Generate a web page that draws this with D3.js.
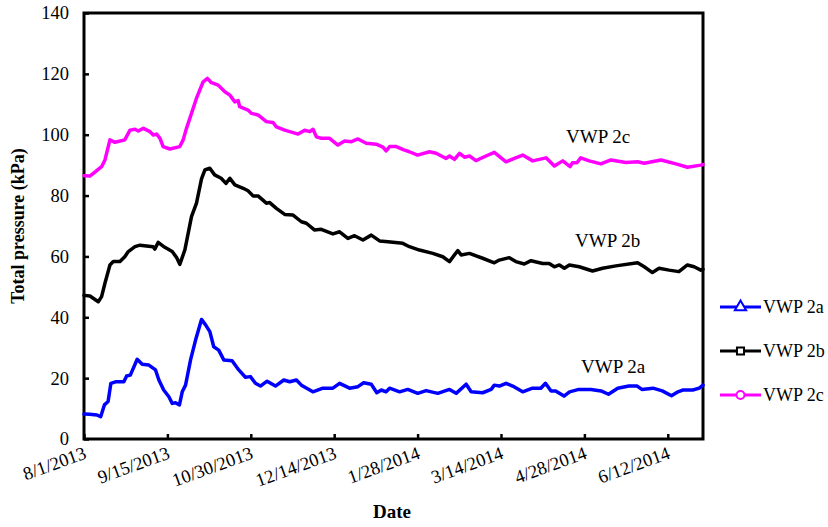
<!DOCTYPE html>
<html>
<head>
<meta charset="utf-8">
<script src="https://cdn.jsdelivr.net/npm/d3@7"></script>
<style>
  body { margin: 0; background: #fff; }
  text { font-family: "Liberation Serif", "Times New Roman", serif; }
</style>
</head>
<body>
<script>
// readings: [days after 8/1/2013, total pressure kPa]
const vwp2a = [[0,8.2],[3,8.1],[7,7.9],[9,7.3],[11,11.2],[13,12.3],[14.5,18.3],[17,18.8],[21.5,18.8],[23,20.7],[25,21],[28.7,26.2],[31.4,24.6],[35,24.3],[38.6,22.7],[40.4,19.4],[43,16.1],[45.8,13.9],[47.6,11.7],[49.4,11.9],[51.5,11.2],[53,15.5],[54.8,17.7],[57.5,26],[60.2,32.5],[63.4,39.3],[65.6,37.5],[67.9,35.3],[70,30.3],[72.7,29.2],[75.4,26],[79.9,25.7],[83.5,22.7],[87.1,20.3],[89.8,20.5],[92.5,18.3],[95.2,17.4],[98.8,19],[103.3,17.4],[107.8,19.4],[111,18.8],[114.6,19.4],[117.3,17.7],[123.5,15.5],[128.9,16.7],[134.3,16.7],[137.9,18.3],[143.3,16.7],[147.8,17.2],[150.9,18.5],[155,18],[158,15.2],[160.4,16.1],[163,15.5],[164.9,16.7],[170.3,15.5],[174.7,16.3],[180.1,15],[184.6,15.9],[190.9,15],[197.2,16.3],[200.8,15],[206.2,18],[208.9,15.5],[215.1,15.2],[219.7,16.3],[221.4,17.7],[224.1,17.4],[227.7,18.3],[231.3,17.4],[236.7,15.5],[242,16.7],[246.5,16.7],[249,18.3],[252,15.8],[254.5,15.8],[259,14.1],[262,15.5],[267,16.3],[273.5,16.3],[279,15.8],[283,14.7],[288,16.7],[294,17.4],[298.5,17.4],[301,16.3],[307,16.7],[312,15.8],[317,14.2],[320.5,15.5],[323,16.1],[328.5,16.1],[332,16.7],[334,17.7]]

const vwp2b = [[0,47.2],[3.2,47],[7.7,45.1],[9.5,46.8],[11.3,51.2],[14,57.2],[15.8,58.3],[19.4,58.3],[22,59.9],[23.9,61.6],[27.5,63.2],[30.2,63.7],[37.3,63.2],[38.2,62.4],[40,64.6],[43.6,63],[47.6,61.6],[49.9,59.7],[51.7,57.4],[54.4,62.1],[58,73.1],[60.7,77.5],[63.4,85.5],[65.2,88.4],[67.9,89],[70.5,86.8],[74,85.7],[76.6,84],[78.7,85.7],[81.4,83.5],[85.9,82.4],[88.5,81.6],[91.2,79.9],[93.9,79.9],[98.4,77.5],[100.2,77.7],[103.8,75.8],[108.3,73.8],[112.8,73.6],[117.3,71.4],[120,70.9],[124.3,68.7],[128,68.9],[134.3,67.4],[137.9,68.1],[142.4,65.9],[146,66.8],[150.5,65.4],[155,67],[159.5,65.1],[164,64.8],[172,64.3],[175.6,63.2],[181,62.1],[188.2,61],[193.6,59.9],[197.2,58.3],[199.9,60.5],[201.7,61.9],[203.5,60.5],[208,61],[215.1,59.4],[221.4,57.9],[224.1,58.8],[229.5,59.6],[233,58.3],[237.6,57.5],[241.2,58.6],[247.5,57.7],[251,57.7],[253.8,56.6],[256.5,57.2],[259.2,56.1],[261.9,57.2],[267.2,56.6],[274.4,55.2],[279.8,56.1],[287,56.9],[298.7,57.9],[302.3,56.6],[306.7,54.7],[310.3,56.1],[315.7,55.5],[321,55],[325.6,57.2],[329.2,56.6],[332.8,55.5],[334,55.8]]

const vwp2c = [[0,86.5],[3.2,86.4],[9.5,89.5],[11.3,91.7],[14,98.3],[16.7,97.5],[22,98.3],[24.8,101.5],[27.5,101.8],[29.3,101.2],[32,102.1],[35.6,101],[37.4,99.9],[39.2,100.2],[41,98.8],[42.7,96.1],[46.3,95.3],[51.7,96.1],[53.5,98.3],[55.3,102.1],[58,107],[60.7,112],[64.3,117.4],[66.6,118.5],[68.8,117.1],[72.4,116.3],[76,114.1],[78.7,113],[81.4,110.8],[83.2,111.2],[84,109.2],[88.5,108.1],[90.4,107],[93.9,106.5],[98.4,104.3],[102,104],[103.8,102.6],[108.3,101.5],[115.5,100.2],[119.1,101.5],[121.8,101],[123.6,101.8],[125.4,99.3],[128.1,98.8],[132.5,98.8],[137,96.6],[140.6,97.9],[144.3,97.7],[147.8,98.6],[152.3,97.2],[157.7,96.9],[161.3,95.9],[163,94.7],[164.9,96.1],[168.5,96.1],[172.6,95],[175.6,94.4],[180,93.3],[186.4,94.4],[190,93.9],[195.4,92.2],[197.2,93],[199.9,91.9],[202.6,93.9],[205.3,92.6],[208,93],[211.5,91.5],[216.9,93],[221.4,94.2],[227.7,91.1],[232.2,92.2],[236.7,93.3],[242.1,91.4],[249.3,92.4],[253.8,89.7],[258.3,91.4],[262.3,89.5],[263.6,90.8],[266,90.8],[268,92.4],[272.6,91.4],[278.9,90.4],[284.3,91.7],[292.4,90.9],[298.7,91.1],[302.3,90.6],[311.3,91.7],[319.4,90.4],[325.6,89.3],[332.8,90],[334,90.2]]

const seriesNames = ['VWP 2a', 'VWP 2b', 'VWP 2c']
const xTickLabels = ['8/1/2013', '9/15/2013', '10/30/2013', '12/14/2013', '1/28/2014', '3/14/2014', '4/28/2014', '6/12/2014']
const yTicks = [0, 20, 40, 60, 80, 100, 120, 140]

const width = 828
const height = 527
const margin = ({ top: 13, right: 125, left: 84, bottom: 88 })

const startDate = new Date(2013, 7, 1)
const endDate = new Date(2014, 6, 1)
const toDate = d => new Date(startDate.getTime() + d * 864e5)
const parseDate = d3.timeParse('%m/%d/%Y')
const fmt = d3.timeFormat('%-m/%-d/%Y')

const svg = d3.select('body')
    .append('svg')
    .attr('width', width)
    .attr('height', height)
    .attr('viewBox', [0, 0, width, height])

const x = d3.scaleTime()
    .domain([startDate, endDate])
    .range([margin.left, width - margin.right])

const y = d3.scaleLinear()
    .domain([0, 140])
    .range([height - margin.bottom, margin.top])

// x axis, ticks inside
const xAxis = svg.append('g')
    .attr('transform', `translate(0,${height - margin.bottom})`)
    .call(d3.axisBottom(x)
        .tickValues(xTickLabels.map(parseDate))
        .tickFormat(fmt)
        .tickSizeInner(-5)
        .tickSizeOuter(0))
xAxis.select('.domain').remove()
xAxis.selectAll('.tick line').attr('stroke-width', 2.5)
xAxis.selectAll('.tick text')
    .attr('x', 0).attr('y', 0).attr('dy', 0)
    .attr('text-anchor', 'end')
    .attr('transform', 'translate(3,19) rotate(-20)')
    .attr('font-size', 18.5)
    .attr('font-family', '"Liberation Serif", serif')
    .attr('fill', '#000')

const yAxis = svg.append('g')
    .attr('transform', `translate(${margin.left},0)`)
    .call(d3.axisLeft(y)
        .tickValues(yTicks)
        .tickSizeInner(-5)
        .tickSizeOuter(0)
        .tickPadding(15))
yAxis.select('.domain').remove()
yAxis.selectAll('.tick line').attr('stroke-width', 2.5)
yAxis.selectAll('.tick text')
    .attr('font-size', 18.5)
    .attr('font-family', '"Liberation Serif", serif')
    .attr('fill', '#000')

// plot frame
svg.append('rect')
    .attr('x', margin.left)
    .attr('y', margin.top)
    .attr('width', width - margin.left - margin.right)
    .attr('height', height - margin.top - margin.bottom)
    .attr('fill', 'none')
    .attr('stroke', '#000')
    .attr('stroke-width', 3)

const line = d3.line()
    .x(d => x(toDate(d[0])))
    .y(d => y(d[1]))

const series = [
    { name: seriesNames[0], data: vwp2a, color: '#0000ff', symbol: d3.symbolTriangle },
    { name: seriesNames[1], data: vwp2b, color: '#000000', symbol: d3.symbolSquare },
    { name: seriesNames[2], data: vwp2c, color: '#ff00ff', symbol: d3.symbolCircle }
]

svg.append('g')
  .selectAll('path')
  .data(series)
  .join('path')
    .attr('d', s => line(s.data))
    .attr('fill', 'none')
    .attr('stroke', s => s.color)
    .attr('stroke-width', 3.5)
    .attr('stroke-linejoin', 'round')
    .attr('stroke-linecap', 'round')

// labels next to the curves
const curveLabels = [
    { text: seriesNames[0], x: 581, y: 373 },
    { text: seriesNames[1], x: 575, y: 247 },
    { text: seriesNames[2], x: 566, y: 143 }
]
svg.append('g')
  .selectAll('text')
  .data(curveLabels)
  .join('text')
    .attr('x', d => d.x)
    .attr('y', d => d.y)
    .attr('font-size', 19)
    .text(d => d.text)

// legend
const legend = svg.append('g')
  .selectAll('g')
  .data(series)
  .join('g')
    .attr('transform', (d, i) => `translate(720,${307 + i * 44})`)
legend.append('line')
    .attr('x1', 0).attr('x2', 41)
    .attr('stroke', d => d.color)
    .attr('stroke-width', 3)
legend.append('path')
    .attr('transform', 'translate(20.5,0)')
    .attr('d', d => d3.symbol().type(d.symbol).size(d.symbol === d3.symbolTriangle ? 55 : 50)())
    .attr('fill', '#fff')
    .attr('stroke', d => d.color)
    .attr('stroke-width', 2)
legend.append('text')
    .attr('x', 43)
    .attr('y', 6)
    .attr('font-size', 18)
    .text(d => d.name)

// axis titles
svg.append('text')
    .attr('transform', `translate(24,${(margin.top + height - margin.bottom) / 2}) rotate(-90)`)
    .attr('text-anchor', 'middle')
    .attr('font-size', 18)
    .attr('font-weight', 'bold')
    .text('Total pressure (kPa)')

svg.append('text')
    .attr('x', 392)
    .attr('y', 518)
    .attr('text-anchor', 'middle')
    .attr('font-size', 19)
    .attr('font-weight', 'bold')
    .text('Date')
</script>
</body>
</html>
